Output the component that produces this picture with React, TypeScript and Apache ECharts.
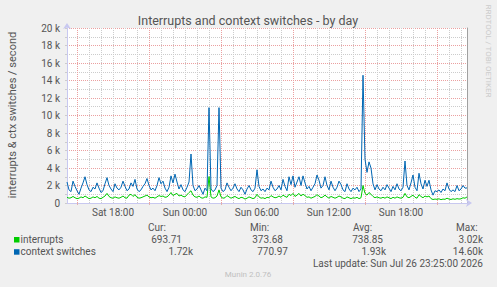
import React, { useEffect, useRef } from 'react';
import * as echarts from 'echarts';

// interrupts / second, one value every 10 minutes from Sat 14:10
const INTERRUPTS = [
  650, 550, 600, 750, 600, 500, 550, 700, 600, 800,
  650, 500, 550, 700, 600, 750, 550, 500, 650, 800,
  1100, 750, 600, 550, 700, 600, 550, 650, 800, 600,
  550, 900, 1000, 750, 950, 650, 550, 600, 700, 800,
  900, 700, 600, 650, 550, 700, 850, 750, 800, 650,
  700, 900, 1200, 850, 1000, 1100, 800, 900, 750, 700,
  950, 1200, 1400, 900, 700, 650, 800, 600, 550, 700,
  650, 3020, 700, 550, 600, 800, 1500, 700, 550, 600,
  850, 700, 550, 650, 750, 600, 500, 650, 600, 450,
  550, 700, 600, 500, 600, 1000, 700, 550, 600, 500,
  650, 600, 850, 700, 600, 650, 800, 650, 900, 750,
  650, 1000, 850, 1100, 750, 900, 1100, 800, 1000, 850,
  650, 700, 550, 650, 750, 950, 800, 600, 700, 900,
  700, 550, 750, 650, 550, 650, 800, 700, 550, 500,
  700, 600, 500, 600, 550, 650, 500, 600, 2000, 1100,
  900, 1200, 1000, 750, 600, 700, 600, 550, 650, 550,
  700, 600, 500, 650, 550, 700, 600, 550, 650, 1100,
  700, 600, 750, 900, 650, 550, 950, 750, 600, 800,
  700, 800, 500, 400, 450, 420, 480, 380, 450, 420,
  550, 450, 400, 480, 420, 500, 450, 480, 600, 550,
  694,
];

// context switches / second, same timestamps
const CONTEXT_SWITCHES = [
  2400, 1500, 1300, 2500, 1900, 1400, 1000, 1700, 2300, 3000,
  2100, 1500, 1300, 1800, 1600, 2300, 1700, 1200, 1400, 2200,
  2900, 2000, 1600, 1300, 2200, 1700, 1500, 1800, 2500, 1900,
  1400, 1600, 2300, 1900, 2700, 1600, 1300, 1500, 1900, 2200,
  2800, 2000, 1500, 1700, 1400, 2000, 2900, 2200, 2500, 1700,
  1300, 1800, 3100, 2300, 3300, 2400, 1600, 2100, 1500, 1300,
  1800, 2400, 5600, 2000, 1400, 1600, 2000, 1500, 1000, 1700,
  1400, 10900, 1600, 1300, 1500, 2000, 10900, 1700, 1300, 1500,
  2300, 1800, 1400, 1700, 2200, 1600, 1300, 1800, 1500, 1000,
  1600, 2000, 1500, 1300, 1700, 3800, 1900, 1400, 1600, 1300,
  1700, 1500, 2500, 1800, 1400, 1600, 2000, 1500, 2700, 1900,
  1400, 3000, 2100, 3100, 1800, 2400, 3000, 2000, 3100, 2300,
  1600, 1900, 1400, 1800, 2200, 3200, 2600, 1700, 2000, 3000,
  2000, 1500, 2500, 1800, 1400, 1800, 2500, 2100, 1500, 1300,
  2200, 1600, 1300, 1700, 1500, 1800, 1300, 1600, 14600, 5000,
  3500, 4700, 4000, 2200, 1500, 2100, 1600, 1400, 1800, 1500,
  2100, 1700, 1300, 1900, 1500, 2200, 1600, 1400, 1800, 4800,
  2000, 1500, 2300, 3200, 1800, 1400, 3400, 2200, 1600, 2600,
  1900, 2600, 1500, 900, 1400, 1300, 1500, 1200, 1600, 1400,
  2300, 1600, 1300, 1500, 1300, 2000, 1400, 1600, 2000, 1700,
  1720,
];

const START_MINUTE = 14 * 60 + 10; // Sat 14:10
const STEP_MINUTES = 10;
const DAYS = ['Sat', 'Sun'];
const pad = (n: number) => (n < 10 ? '0' + n : String(n));
const CATEGORIES = INTERRUPTS.map((_, i) => {
  const t = START_MINUTE + i * STEP_MINUTES;
  const m = t % 1440;
  return `${DAYS[Math.floor(t / 1440)]} ${pad(Math.floor(m / 60))}:${pad(m % 60)}`;
});

const TICK_LABELS = ['Sat 18:00', 'Sun 00:00', 'Sun 06:00', 'Sun 12:00', 'Sun 18:00'];
const MAJOR_HOURS = [3, 9, 15, 21];

const Y_MAX = 20000;
const Y_STEP = 1000;

const TITLE = 'Interrupts and context switches - by day';
const Y_NAME = 'interrupts & ctx switches / second';
const SERIES_NAMES = ['interrupts', 'context switches'];
const SERIES_COLORS = ['#00cc00', '#0066b3'];
const STAT_HEADERS = ['Cur:', 'Min:', 'Avg:', 'Max:'];
const STAT_ROWS = [
  ['693.71', '373.68', '738.85', '3.02k'],
  ['1.72k', '770.97', '1.93k', '14.60k'],
];
const LAST_UPDATE = 'Last update: Sun Jul 26 23:25:00 2026';
const FOOTER = 'Munin 2.0.76';
const WATERMARK = 'RRDTOOL / TOBI OETIKER';

const FONT = 'Roboto, "Noto Sans", sans-serif';
const TEXT = '#555555';

const isHour = (c: string) => c.endsWith(':00');
const hourOf = (c: string) => parseInt(c.slice(4, 6), 10);
const isMajor = (c: string) => isHour(c) && MAJOR_HOURS.includes(hourOf(c));

export default function App() {
  const ref = useRef<HTMLDivElement>(null);
  useEffect(() => {
    if (!ref.current) return;
    const chart = echarts.init(ref.current, null, { renderer: 'svg' });

    const headerX = [148, 250, 353, 456];
    const valueRight = [
      [182, 283, 383, 483],
      [193, 288, 386, 483],
    ];
    const rowY = [239.5, 251.7];

    const graphics: any[] = [
      {
        type: 'text', x: 248, y: 20.5,
        style: { text: TITLE, fill: TEXT, font: `12.5px ${FONT}`, align: 'center', verticalAlign: 'middle' },
      },
      {
        type: 'text', x: 12, y: 115, rotation: Math.PI / 2,
        style: { text: Y_NAME, fill: TEXT, font: `11px ${FONT}`, align: 'center', verticalAlign: 'middle' },
      },
      {
        type: 'text', x: 488, y: 51, rotation: -Math.PI / 2,
        style: { text: WATERMARK, fill: '#cccccc', font: `8px ${FONT}`, align: 'center', verticalAlign: 'middle' },
      },
      {
        type: 'text', x: 248, y: 274.3,
        style: { text: FOOTER, fill: '#c0c0c0', font: `8px ${FONT}`, align: 'center', verticalAlign: 'middle' },
      },
      {
        type: 'text', x: 483, y: 263.3,
        style: { text: LAST_UPDATE, fill: TEXT, font: `10px ${FONT}`, align: 'right', verticalAlign: 'middle' },
      },
    ];
    STAT_HEADERS.forEach((h, k) => {
      graphics.push({
        type: 'text', x: headerX[k], y: 227.3,
        style: { text: h, fill: TEXT, font: `10px ${FONT}`, align: 'left', verticalAlign: 'middle' },
      });
    });
    SERIES_NAMES.forEach((n, r) => {
      graphics.push({
        type: 'rect', shape: { x: 14, y: rowY[r] - 2.5, width: 5.5, height: 5.5 },
        style: { fill: SERIES_COLORS[r] },
      });
      graphics.push({
        type: 'text', x: 20.5, y: rowY[r],
        style: { text: n, fill: TEXT, font: `10px ${FONT}`, align: 'left', verticalAlign: 'middle' },
      });
      STAT_ROWS[r].forEach((v, k) => {
        graphics.push({
          type: 'text', x: valueRight[r][k], y: rowY[r],
          style: { text: v, fill: TEXT, font: `10px ${FONT}`, align: 'right', verticalAlign: 'middle' },
        });
      });
    });

    const axisColor = '#c8c8f0';
    chart.setOption({
      animation: false,
      backgroundColor: '#f0f0f0',
      textStyle: { fontFamily: FONT },
      grid: {
        left: 67, right: 30, top: 28, bottom: 84,
        show: true, backgroundColor: '#ffffff', borderWidth: 0,
        containLabel: false,
      },
      xAxis: [
        {
          type: 'category', data: CATEGORIES, boundaryGap: false, position: 'bottom',
          axisLine: {
            show: true, lineStyle: { color: axisColor, width: 1 },
            symbol: ['none', 'arrow'], symbolSize: [6, 6], symbolOffset: [0, 5],
          },
          axisTick: {
            show: true, length: 2, inside: false,
            interval: (_i: number, v: string) => isMajor(v),
            lineStyle: { color: '#e0b0b0' },
          },
          axisLabel: {
            interval: (_i: number, v: string) => TICK_LABELS.includes(v),
            color: TEXT, fontSize: 10, margin: 4, fontFamily: FONT,
          },
          splitLine: {
            show: true,
            interval: (_i: number, v: string) => isMajor(v),
            lineStyle: { color: '#eba0a0', type: [1, 1], width: 1 },
          },
        },
        {
          type: 'category', data: CATEGORIES, boundaryGap: false, position: 'top',
          axisLine: { show: false }, axisTick: { show: false }, axisLabel: { show: false },
          splitLine: {
            show: true,
            interval: (_i: number, v: string) => isHour(v) && !isMajor(v),
            lineStyle: { color: '#cccccc', type: [1, 1], width: 1 },
          },
        },
      ],
      yAxis: [
        {
          type: 'value', min: 0, max: Y_MAX, interval: Y_STEP, position: 'left',
          axisLine: {
            show: true, lineStyle: { color: axisColor, width: 1 },
            symbol: ['none', 'arrow'], symbolSize: [6, 6], symbolOffset: [0, 5],
          },
          axisTick: { show: true, length: 2, lineStyle: { color: '#cccccc' } },
          axisLabel: {
            color: TEXT, fontSize: 10, margin: 7, fontFamily: FONT,
            formatter: (v: number) => (v === 0 ? '0' : v % 2000 === 0 ? `${v / 1000} k` : ''),
          },
          splitLine: {
            show: true,
            lineStyle: { color: ['#eba0a0', '#cccccc'], type: [1, 1], width: 1 },
          },
        },
        {
          type: 'value', min: 0, max: Y_MAX, interval: Y_STEP, position: 'right',
          axisLine: { show: true, lineStyle: { color: '#a0a0a0', width: 1 } },
          axisTick: { show: false }, axisLabel: { show: false }, splitLine: { show: false },
        },
      ],
      series: [
        {
          name: SERIES_NAMES[0], type: 'line', data: INTERRUPTS, showSymbol: false,
          xAxisIndex: 0, yAxisIndex: 0,
          lineStyle: { color: SERIES_COLORS[0], width: 1 }, itemStyle: { color: SERIES_COLORS[0] },
        },
        {
          name: SERIES_NAMES[1], type: 'line', data: CONTEXT_SWITCHES, showSymbol: false,
          xAxisIndex: 0, yAxisIndex: 0,
          lineStyle: { color: SERIES_COLORS[1], width: 1 }, itemStyle: { color: SERIES_COLORS[1] },
        },
      ],
      graphic: graphics,
    });
    return () => chart.dispose();
  }, []);
  return (
    <div
      ref={ref}
      style={{ position: 'fixed', left: 0, top: 0, width: 497, height: 287 }}
    />
  );
}
